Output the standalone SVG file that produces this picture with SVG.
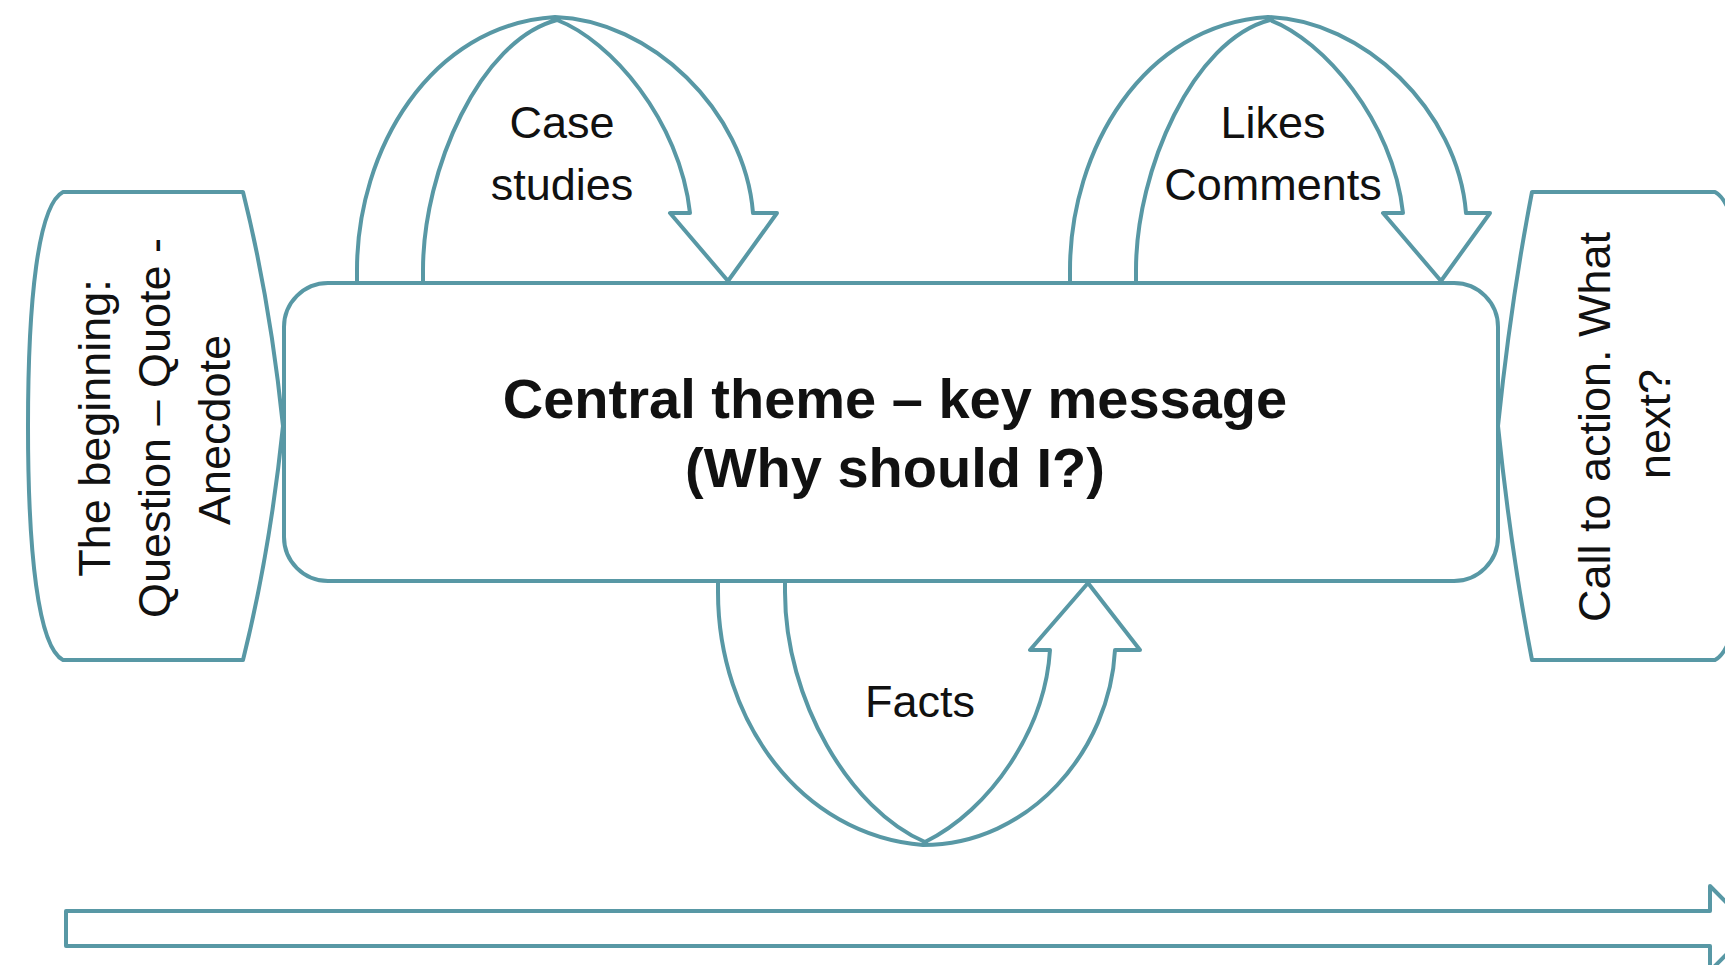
<svg xmlns="http://www.w3.org/2000/svg" width="1725" height="965" viewBox="0 0 1725 965">
  <style>
    .shape { fill: #ffffff; stroke: #5898a5; stroke-width: 4; stroke-linejoin: round; }
    .lbl { font-family: "Liberation Sans", Arial, sans-serif; font-size: 45px; fill: #111111; text-anchor: middle; }
    .title { font-family: "Liberation Sans", Arial, sans-serif; font-size: 56px; font-weight: bold; fill: #111111; text-anchor: middle; }
  </style>
  <rect width="1725" height="965" fill="#ffffff"/>

  <g id="connectors">
    <!-- Case studies loop arrow -->
    <path id="arrow-case" class="shape" d="M357,286 L357,270 C357,150 430,25 555,17 C650,20 745,110 753,213 L777,213 L728,281 L670,213 L690,213 C680,120 610,40 557,20 C480,40 423,170 423,270 L423,286 Z"/>
    <!-- Likes / Comments loop arrow -->
    <path id="arrow-likes" class="shape" transform="translate(713,0)" d="M357,286 L357,270 C357,150 430,25 555,17 C650,20 745,110 753,213 L777,213 L728,281 L670,213 L690,213 C680,120 610,40 557,20 C480,40 423,170 423,270 L423,286 Z"/>
    <!-- Facts loop arrow -->
    <path id="arrow-facts" class="shape" d="M718,580 L718,592 C718,720 800,835 923,845 C1030,845 1110,750 1115,650 L1140,650 L1088,583 L1030,650 L1050,650 C1045,730 990,810 925,842 C850,810 785,700 785,592 L785,580 Z"/>
    <!-- Timeline arrow -->
    <path id="arrow-timeline" class="shape" d="M66,911 L1710,911 L1710,886 L1752,928.5 L1710,971 L1710,946 L66,946 Z"/>
  </g>

  <g id="node-central">
    <rect class="shape" x="284" y="283" width="1214" height="298" rx="44" ry="44"/>
    <text class="title" x="895" y="418">Central theme – key message</text>
    <text class="title" x="895" y="487">(Why should I?)</text>
  </g>

  <g id="node-beginning">
    <path class="shape" d="M63,192 L243,192 Q270,300 283,426 Q270,552 243,660 L63,660 C38,647 28,552 28,426 C28,300 38,205 63,192 Z"/>
    <text class="lbl" transform="translate(110,428) rotate(-90)">The beginning:</text>
    <text class="lbl" transform="translate(170,428) rotate(-90)">Question – Quote -</text>
    <text class="lbl" transform="translate(230,430) rotate(-90)">Anecdote</text>
  </g>

  <g id="node-call">
    <path class="shape" d="M1532,192 L1715,192 C1740,205 1750,300 1750,426 C1750,552 1740,647 1715,660 L1532,660 Q1511,552 1498,426 Q1511,300 1532,192 Z"/>
    <text class="lbl" transform="translate(1610,427) rotate(-90)">Call to action. What</text>
    <text class="lbl" transform="translate(1670,424) rotate(-90)">next?</text>
  </g>

  <g id="label-case">
    <text class="lbl" x="562" y="138">Case</text>
    <text class="lbl" x="562" y="200">studies</text>
  </g>
  <g id="label-likes">
    <text class="lbl" x="1273" y="138">Likes</text>
    <text class="lbl" x="1273" y="200">Comments</text>
  </g>
  <g id="label-facts">
    <text class="lbl" x="920" y="717">Facts</text>
  </g>
</svg>
